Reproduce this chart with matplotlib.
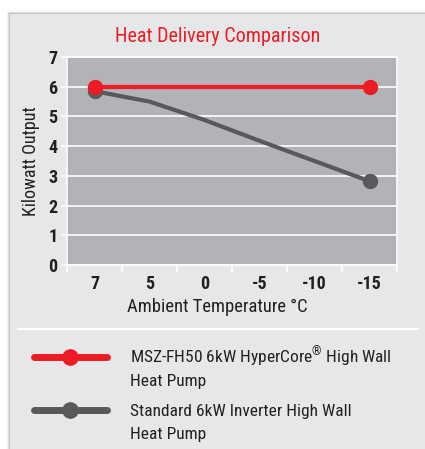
import matplotlib
matplotlib.use("Agg")
import matplotlib.pyplot as plt
from matplotlib.patches import Rectangle
from matplotlib.lines import Line2D

# donnees
temperatures = ["7", "5", "0", "-5", "-10", "-15"]
hypercore_kw = [6.0, None, None, None, None, 6.0]
standard_kw = [5.85, 5.5, 4.88, 4.18, 3.5, 2.82]
y_ticks = [0, 1, 2, 3, 4, 5, 6, 7]
legend_labels = [["MSZ-FH50 6kW HyperCore$^{\\circledR}$ High Wall", "Heat Pump"],
                 ["Standard 6kW Inverter High Wall", "Heat Pump"]]

ROUGE = "#ed1c24"
GRIS = "#58595b"
PANNEAU = "#e6e7e8"
FOND = "#b1b3b6"
TEXTE = "#231f20"

plt.rcParams["font.family"] = ["Roboto Condensed", "DejaVu Sans"]
plt.rcParams["mathtext.fontset"] = "custom"
plt.rcParams["mathtext.rm"] = "Roboto Condensed"

W, H = 425, 449
fig = plt.figure(figsize=(W / 100, H / 100), dpi=100)
fig.patch.set_facecolor("white")

# panneau gris avec ombre
for i, a in enumerate([0.05, 0.08, 0.12]):
    d = 3 - i
    fig.patches.append(Rectangle(((10 - d) / W, 0), 1, (H - 14 + d) / H,
                                 transform=fig.transFigure, color="black",
                                 alpha=a, lw=0, zorder=-2))
fig.patches.append(Rectangle((10 / W, 0), 1, (H - 14) / H,
                             transform=fig.transFigure, color=PANNEAU,
                             lw=0, zorder=-1))

ax = fig.add_axes([67 / W, 1 - 265 / H, 330 / W, 208 / H])
ax.set_facecolor(FOND)

x = list(range(len(temperatures)))
xs = [i for i, v in zip(x, hypercore_kw) if v is not None]
ys = [v for v in hypercore_kw if v is not None]
ax.plot(x, standard_kw, color=GRIS, lw=3, zorder=3)
ax.plot([x[0], x[-1]], [standard_kw[0], standard_kw[-1]], "o", color=GRIS,
        ms=10, zorder=3, lw=0)
ax.plot(xs, ys, color=ROUGE, lw=3, marker="o", ms=10, zorder=4)

ax.set_xlim(-0.5, len(temperatures) - 0.5)
ax.set_ylim(0, 7)
ax.set_yticks(y_ticks)
ax.set_xticks(x)
ax.set_xticklabels(temperatures)
ax.set_xticks([i - 0.5 for i in range(len(temperatures) + 1)], minor=True)
ax.grid(axis="y", color="white", lw=1.2, zorder=1)
ax.set_axisbelow(True)
for s in ["left", "right", "top", "bottom"]:
    ax.spines[s].set_color("white")
    ax.spines[s].set_linewidth(1.2)
ax.tick_params(axis="x", which="major", length=0, pad=7,
               labelsize=13, labelcolor=TEXTE)
ax.tick_params(axis="x", which="minor", length=5, width=1.2, color="white")
ax.tick_params(axis="y", length=4, width=1.2, color="white", pad=3,
               labelsize=13, labelcolor=TEXTE)
for t in ax.get_xticklabels() + ax.get_yticklabels():
    t.set_fontweight("bold")

ax.set_xlabel("Ambient Temperature \u00b0C", fontsize=13.3, color=TEXTE,
              labelpad=4)
ax.xaxis.set_label_coords((217 - 67) / 330, -0.16)
ax.set_ylabel("Kilowatt Output", fontsize=13, color=TEXTE, labelpad=6)
fig.text(218 / W, 1 - 37 / H, "Heat Delivery Comparison", fontsize=14.5,
         color=ROUGE, ha="center", va="center")

# separateur
fig.add_artist(Line2D([18 / W, 418 / W], [1 - 329 / H] * 2, color="white",
                      lw=1.5, transform=fig.transFigure))

# legende
couleurs = [ROUGE, GRIS]
positions = [357, 410]
for lignes, c, yp in zip(legend_labels, couleurs, positions):
    yf = 1 - yp / H
    fig.add_artist(Line2D([34 / W, 107 / W], [yf, yf], color=c, lw=5,
                          solid_capstyle="round", transform=fig.transFigure))
    fig.add_artist(Line2D([70 / W], [yf], color=c, marker="o", ms=11,
                          transform=fig.transFigure))
    for k, lig in enumerate(lignes):
        fig.text(130 / W, 1 - (yp + 6 + 23 * k) / H, lig, fontsize=12.5,
                 color=TEXTE, va="baseline", ha="left")

fig.savefig("out.png", dpi=100)
